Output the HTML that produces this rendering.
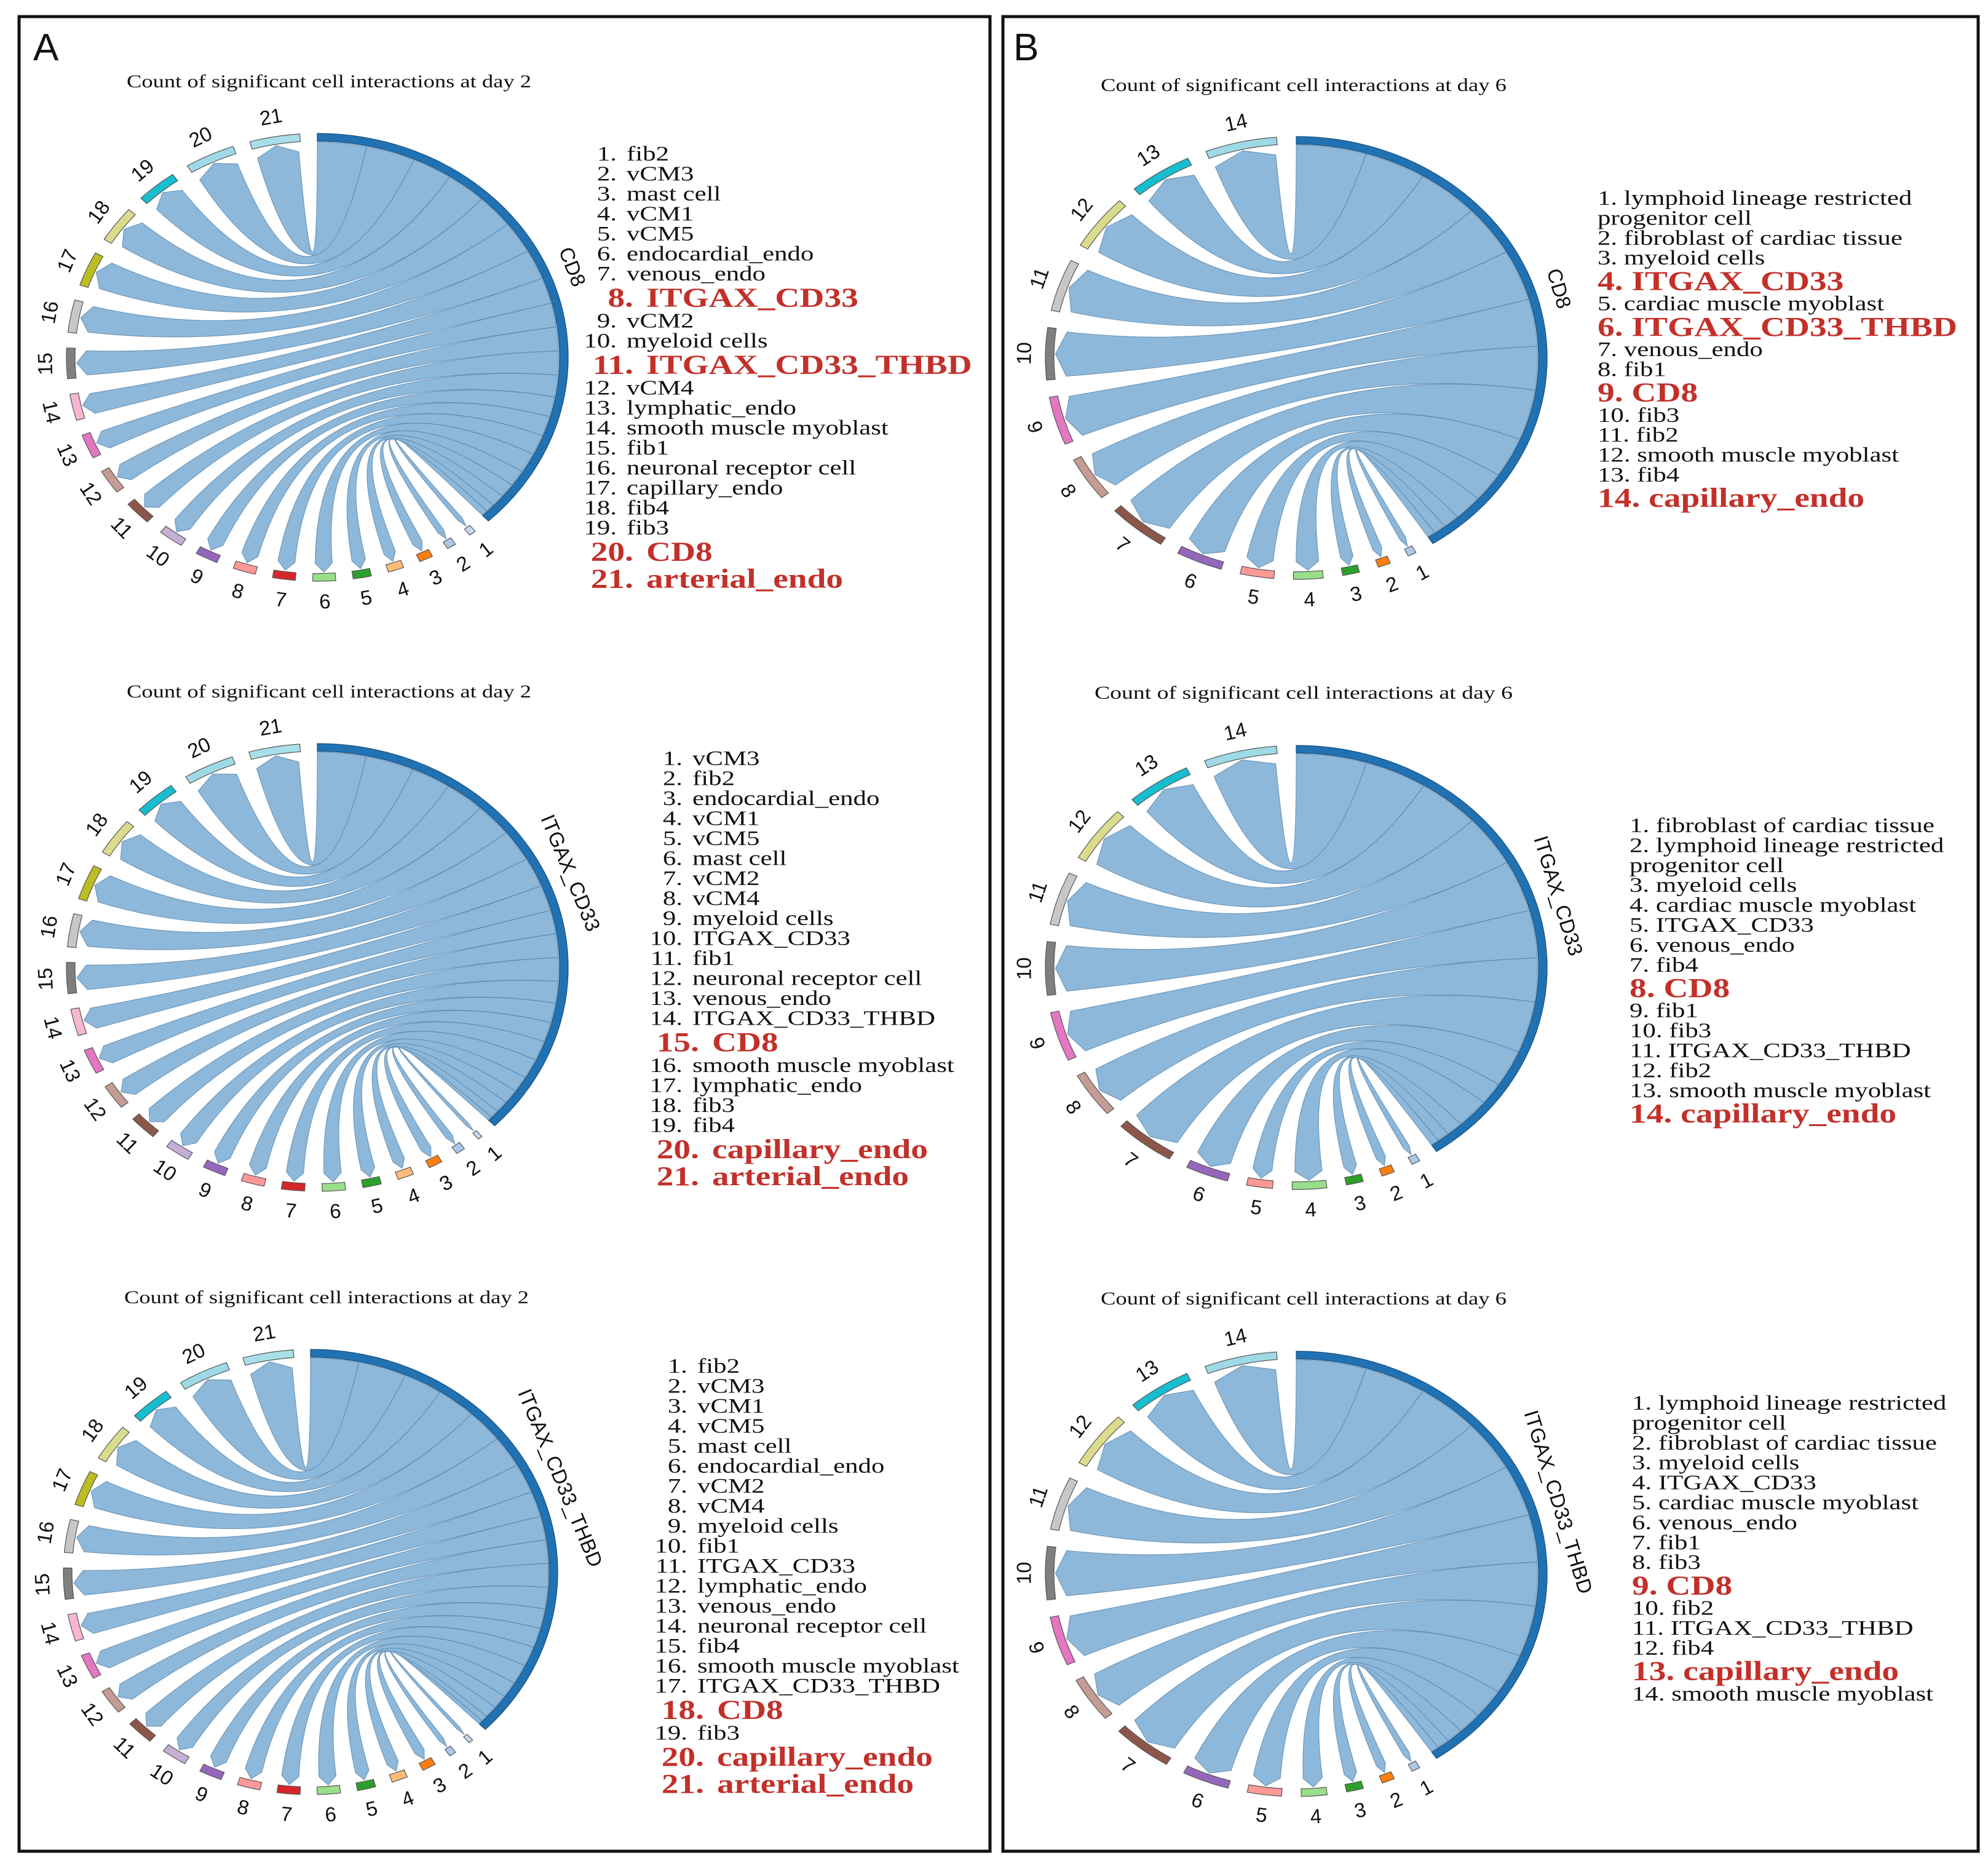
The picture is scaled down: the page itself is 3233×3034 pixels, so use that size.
<!DOCTYPE html>
<html><head><meta charset="utf-8"><title>Chord diagrams of cell interactions</title>
<style>
html,body{margin:0;padding:0;background:#fff}
svg{display:block}
.ttl{font-family:"Liberation Serif",serif;font-size:30px;fill:#111}
.lab{font-family:"Liberation Sans",sans-serif;font-size:33px;fill:#111}
.leg{font-family:"Liberation Serif",serif;font-size:34px;fill:#111}
.red{font-family:"Liberation Serif",serif;font-size:44px;font-weight:bold;fill:#c3302a}
.panel{font-family:"Liberation Sans",sans-serif;font-size:62px;fill:#111}
</style></head>
<body>
<svg id="fig" xmlns="http://www.w3.org/2000/svg" width="3233" height="3034" viewBox="0 0 3233 3034">
<rect x="0" y="0" width="3233" height="3034" fill="#fff"/>
<rect x="31" y="27" width="1579" height="2983" fill="none" stroke="#111" stroke-width="5"/>
<rect x="1631" y="27" width="1586" height="2983" fill="none" stroke="#111" stroke-width="5"/>
<text class="panel" x="54" y="98">A</text>
<text class="panel" x="1648" y="98">B</text>
</svg>
<script>
// ---- data ----
const A1_WEIGHTS=[1.5,2,3,3.5,4,5,5,5,5,5.5,6,6,6,6.5,7.5,8,8.5,9,9,11,11];
const A2_WEIGHTS=[1,2,3,3.5,4,5,5,5,5,5.5,6,6,6,6.5,7.5,8,8.5,9,9,11,11];
const A3_WEIGHTS=[1,1.5,3,3.5,4,5,5,5,5,5.5,6,6,6,6.5,7.5,8,8.5,9,9,11,11];
const B1_WEIGHTS=[2,3,4,7,8,11,14,12,13,14,14,15,15,17];
const B2_WEIGHTS=[2,3,4,8,6,10,14,12,13,14,14,15,15,17];
const B3_WEIGHTS=[2,3,4,6,8,11,14,12,13,14,14,15,15,17];
const A_COLORS=['#c9d8ee','#aec7e8','#ff7f0e','#ffbb78','#2ca02c','#98df8a','#d62728','#ff9896','#9467bd','#c5b0d5','#8c564b','#c49c94','#e377c2','#f7b6d2','#7f7f7f','#c7c7c7','#bcbd22','#dbdb8d','#17becf','#9edae5','#a9dfe8'];
const B_COLORS=['#aec7e8','#ff7f0e','#2ca02c','#98df8a','#ff9896','#9467bd','#8c564b','#c49c94','#e377c2','#7f7f7f','#c7c7c7','#dbdb8d','#17becf','#9edae5'];
const A1_LEGEND=['fib2','vCM3','mast cell','vCM1','vCM5','endocardial_endo','venous_endo','ITGAX_CD33','vCM2','myeloid cells','ITGAX_CD33_THBD','vCM4','lymphatic_endo','smooth muscle myoblast','fib1','neuronal receptor cell','capillary_endo','fib4','fib3','CD8','arterial_endo'];
const A1_RED=[8,11,20,21];
const A2_LEGEND=['vCM3','fib2','endocardial_endo','vCM1','vCM5','mast cell','vCM2','vCM4','myeloid cells','ITGAX_CD33','fib1','neuronal receptor cell','venous_endo','ITGAX_CD33_THBD','CD8','smooth muscle myoblast','lymphatic_endo','fib3','fib4','capillary_endo','arterial_endo'];
const A2_RED=[15,20,21];
const A3_LEGEND=['fib2','vCM3','vCM1','vCM5','mast cell','endocardial_endo','vCM2','vCM4','myeloid cells','fib1','ITGAX_CD33','lymphatic_endo','venous_endo','neuronal receptor cell','fib4','smooth muscle myoblast','ITGAX_CD33_THBD','CD8','fib3','capillary_endo','arterial_endo'];
const A3_RED=[18,20,21];
const B1_LEGEND=['1. lymphoid lineage restricted','progenitor cell','2. fibroblast of cardiac tissue','3. myeloid cells','4. ITGAX_CD33','5. cardiac muscle myoblast','6. ITGAX_CD33_THBD','7. venous_endo','8. fib1','9. CD8','10. fib3','11. fib2','12. smooth muscle myoblast','13. fib4','14. capillary_endo'];
const B1_RED=[5,7,10,15];
const B2_LEGEND=['1. fibroblast of cardiac tissue','2. lymphoid lineage restricted','progenitor cell','3. myeloid cells','4. cardiac muscle myoblast','5. ITGAX_CD33','6. venous_endo','7. fib4','8. CD8','9. fib1','10. fib3','11. ITGAX_CD33_THBD','12. fib2','13. smooth muscle myoblast','14. capillary_endo'];
const B2_RED=[9,15];
const B3_LEGEND=['1. lymphoid lineage restricted','progenitor cell','2. fibroblast of cardiac tissue','3. myeloid cells','4. ITGAX_CD33','5. cardiac muscle myoblast','6. venous_endo','7. fib1','8. fib3','9. CD8','10. fib2','11. ITGAX_CD33_THBD','12. fib4','13. capillary_endo','14. smooth muscle myoblast'];
const B3_RED=[10,14];

// ---- layout ----
const CHARTS=[
 {id:'a1',cx:516,cy:581,rx:408,ry:364,E:-47,gap:4,w:A1_WEIGHTS,col:A_COLORS,target:'CD8',title:'Count of significant cell interactions at day 2',tx:206,ty:142,tw:658},
 {id:'a2',cx:516,cy:1573,rx:408,ry:364,E:-45,gap:4,w:A2_WEIGHTS,col:A_COLORS,target:'ITGAX_CD33',title:'Count of significant cell interactions at day 2',tx:206,ty:1134,tw:658},
 {id:'a3',cx:505,cy:2556,rx:402,ry:362,E:-45,gap:4,w:A3_WEIGHTS,col:A_COLORS,target:'ITGAX_CD33_THBD',title:'Count of significant cell interactions at day 2',tx:202,ty:2119,tw:658},
 {id:'b1',cx:2108,cy:582,rx:408,ry:360,E:-57,gap:4.5,w:B1_WEIGHTS,col:B_COLORS,target:'CD8',title:'Count of significant cell interactions at day 6',tx:1790,ty:148,tw:660},
 {id:'b2',cx:2108,cy:1573,rx:408,ry:361,E:-56,gap:4.5,w:B2_WEIGHTS,col:B_COLORS,target:'ITGAX_CD33',title:'Count of significant cell interactions at day 6',tx:1780,ty:1136,tw:680},
 {id:'b3',cx:2108,cy:2559,rx:408,ry:362,E:-56,gap:4.5,w:B3_WEIGHTS,col:B_COLORS,target:'ITGAX_CD33_THBD',title:'Count of significant cell interactions at day 6',tx:1790,ty:2121,tw:660}
];
const NS='http://www.w3.org/2000/svg';
const svg=document.getElementById('fig');
function mk(tag,parent){const e=document.createElementNS(NS,tag);parent.appendChild(e);return e;}
const rad=d=>d*Math.PI/180;

CHARTS.forEach(c=>{
  const g=mk('g',svg);
  
  
  const P=(deg,r)=>[c.cx+c.rx*r*Math.cos(rad(deg)), c.cy-c.ry*r*Math.sin(rad(deg))];
  const f=p=>p[0].toFixed(1)+' '+p[1].toFixed(1);
  const arcPts=(a0,a1,r)=>{const n=Math.max(2,Math.ceil(Math.abs(a1-a0)));let s='';for(let i=0;i<=n;i++){s+=' L '+f(P(a0+(a1-a0)*i/n,r));}return s;};
  const barT=14/ c.rx, rOut=1, rIn=1-barT;
  const n=c.w.length, sum=c.w.reduce((a,b)=>a+b,0);
  const avail=(c.E-c.gap)-(-270+c.gap)-(n-1)*c.gap;
  const unit=avail/sum;
  const tunit=(90-c.E)/sum;
  const ctr=[c.cx,c.cy];
  // title
  const t=mk('text',g);
  
  
  t.setAttribute('class','ttl');t.setAttribute('x',c.tx);t.setAttribute('y',c.ty);
  t.setAttribute('textLength',c.tw);t.setAttribute('lengthAdjust','spacingAndGlyphs');
  t.textContent=c.title;
  let a=c.E-c.gap, b=c.E;
  const rib=mk('g',g);
  
  
  for(let i=0;i<n;i++){
    const as=a, ae=a-c.w[i]*unit, mid=(as+ae)/2;
    const blo=b, bhi=b+c.w[i]*tunit;
    const sh=Math.min(0.6,(as-ae)*0.1);
    const rc=rIn-0.045, rt=rIn-0.006, rr=rIn-0.004;
    let d='M '+f(P(ae+sh,rc))+' L '+f(P(mid,rt))+' L '+f(P(as-sh,rc));
    d+=' Q '+f(ctr)+' '+f(P(blo,rr));
    d+=arcPts(blo,bhi,rr);
    d+=' Q '+f(ctr)+' '+f(P(ae+sh,rc))+' Z';
    const pth=mk('path',rib);
    
    
    pth.setAttribute('d',d);pth.setAttribute('fill','#8db8da');
    pth.setAttribute('stroke','#4f7fa8');pth.setAttribute('stroke-width','1.2');pth.setAttribute('stroke-opacity','0.7');
    // sector bar
    const bar=mk('path',g);
    
    
    bar.setAttribute('d','M '+f(P(as,rOut))+arcPts(as,ae,rOut)+arcPts(ae,as,rIn)+' Z');
    bar.setAttribute('fill',c.col[i]);bar.setAttribute('stroke','#555');bar.setAttribute('stroke-width','1.2');
    // label
    const lp=[c.cx+(c.rx+35)*Math.cos(rad(mid)), c.cy-(c.ry+33)*Math.sin(rad(mid))];
    let phi=Math.atan2(-Math.cos(rad(mid)),-Math.sin(rad(mid)))*180/Math.PI;
    if(mid<-170) phi+=180;
    const lb=mk('text',g);
    
    
    lb.setAttribute('class','lab');lb.setAttribute('text-anchor','middle');lb.setAttribute('dominant-baseline','central');
    lb.setAttribute('transform','translate('+f(lp).replace(' ',',')+') rotate('+phi.toFixed(1)+')');
    lb.textContent=String(i+1);
    a=ae-c.gap; b=bhi;
  }
  // target arc
  const tb=mk('path',g);
  
  
  tb.setAttribute('d','M '+f(P(90,rOut))+arcPts(90,c.E,rOut)+arcPts(c.E,90,rIn)+' Z');
  tb.setAttribute('fill','#2172b3');tb.setAttribute('stroke','#1a4f7a');tb.setAttribute('stroke-width','1.2');
  const tm=(90+c.E)/2;
  const tp=[c.cx+(c.rx+38)*Math.cos(rad(tm)), c.cy-(c.ry+38)*Math.sin(rad(tm))];
  const phi2=Math.atan2(-Math.cos(rad(tm)),-Math.sin(rad(tm)))*180/Math.PI+180;
  const tl=mk('text',g);
  
  
  tl.setAttribute('class','lab');tl.setAttribute('text-anchor','middle');tl.setAttribute('dominant-baseline','central');
  tl.setAttribute('transform','translate('+f(tp).replace(' ',',')+') rotate('+phi2.toFixed(1)+')');
  tl.textContent=c.target;
});

// ---- legends ----
const SX=1.26;
function legendA(items,reds,y0,numEnd,nameX,redNumEnd,redNameX,id){
  const g=mk('g',svg);
  
  
  let y=y0,prevH=null;
  items.forEach((name,i)=>{
    const red=reds.includes(i+1); const h=red?44:32.5;
    if(prevH!==null) y+=(prevH+h)/2; prevH=h;
    const base=y+(red?15:11);
    const nt=mk('text',g);
    
    
    nt.setAttribute('class',red?'red':'leg');nt.setAttribute('text-anchor','end');
    nt.setAttribute('transform','translate('+(red?redNumEnd:numEnd)+','+base.toFixed(1)+') scale('+SX+',1)');
    nt.textContent=(i+1)+'.';
    const tt=mk('text',g);
    
    
    tt.setAttribute('class',red?'red':'leg');
    tt.setAttribute('transform','translate('+(red?redNameX:nameX)+','+base.toFixed(1)+') scale('+SX+',1)');
    tt.textContent=name;
  });
}
function legendB(items,reds,y0,x,id){
  const g=mk('g',svg);
  
  
  let y=y0,prevH=null;
  items.forEach((s,i)=>{
    const red=reds.includes(i+1); const h=red?42:32.4;
    if(prevH!==null) y+=(prevH+h)/2; prevH=h;
    const tt=mk('text',g);
    
    
    tt.setAttribute('class',red?'red':'leg');
    tt.setAttribute('transform','translate('+x+','+(y+(red?15:11)).toFixed(1)+') scale('+SX+',1)');
    tt.textContent=s;
  });
}
legendA(A1_LEGEND,A1_RED,250,1003,1019,1030,1051,'a1');
legendA(A2_LEGEND,A2_RED,1233,1110,1126,1137,1158,'a2');
legendA(A3_LEGEND,A3_RED,2221,1118,1134,1145,1166,'a3');
legendB(B1_LEGEND,B1_RED,322,2598,'b1');
legendB(B2_LEGEND,B2_RED,1342,2650,'b2');
legendB(B3_LEGEND,B3_RED,2281,2654,'b3');
</script>
</body></html>
